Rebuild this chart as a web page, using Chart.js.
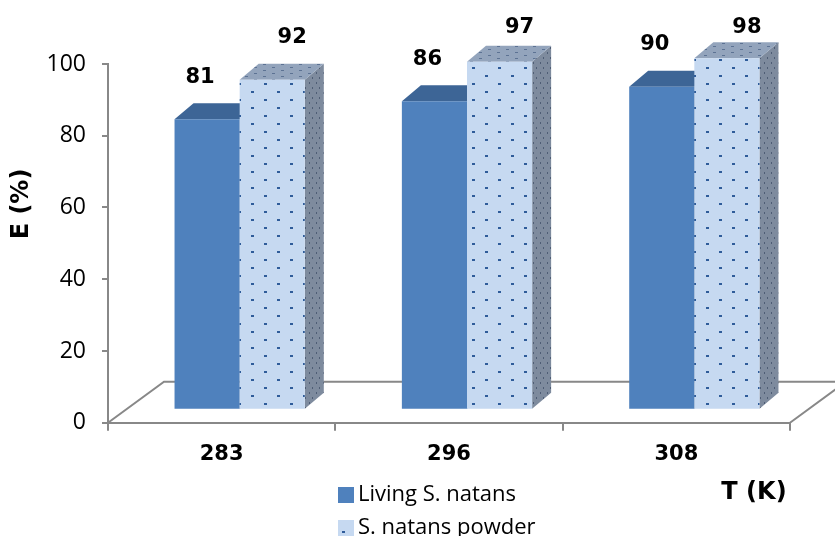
<!DOCTYPE html>
<html>
<head>
<meta charset="utf-8">
<script src="https://cdn.jsdelivr.net/npm/chart.js@4/dist/chart.umd.min.js"></script>
<style>
  html, body { margin: 0; padding: 0; background: #ffffff; }
  #wrap { width: 835px; height: 536px; position: relative; }
</style>
</head>
<body>
<div id="wrap"><canvas id="c" width="835" height="536"></canvas></div>
<script>
// Removal efficiency E (%) at three temperatures T (K)
const temperatures = ['283', '296', '308'];
const livingValues = [81, 86, 90];
const powderValues = [92, 97, 98];
const seriesNames = ['Living S. natans', 'S. natans powder'];
const yTickValues = [0, 20, 40, 60, 80, 100];

// 3D look: bars sit midway into the floor, each box has a shallow depth
const FLOOR_DX = 56, FLOOR_DY = -41;
const BAR_SHIFT_X = 18, BAR_SHIFT_Y = -13;
const BOX_DX = 19, BOX_DY = -16;
const AXIS_GRAY = '#888888';

function makePattern(w, h, bg, dot, dots) {
  const c = document.createElement('canvas');
  c.width = w; c.height = h;
  const g = c.getContext('2d');
  g.fillStyle = bg; g.fillRect(0, 0, w, h);
  g.fillStyle = dot;
  dots.forEach(d => g.fillRect(d[0], d[1], d[2], d[3]));
  return c;
}

const frontTile = makePattern(26, 16, '#C6D9F1', '#2F5C9A', [[4, 3, 3, 2], [17, 11, 3, 2]]);
const topTile = makePattern(18, 6, '#93A4BC', '#5C7293', [[2, 1, 3, 1], [11, 4, 3, 1]]);
const sideTile = makePattern(7, 10, '#7E8B9E', '#4E5D75', [[1, 2, 1, 2], [4, 7, 1, 2]]);

const ctx0 = document.getElementById('c').getContext('2d');
const styles = [
  { front: '#4F81BD', top: '#3D6596', side: '#34577F' },
  { front: ctx0.createPattern(frontTile, 'repeat'),
    top: ctx0.createPattern(topTile, 'repeat'),
    side: ctx0.createPattern(sideTile, 'repeat') }
];
const labelOffsetX = [-7, 20];

function poly(ctx, pts, fill) {
  ctx.beginPath();
  ctx.moveTo(pts[0][0], pts[0][1]);
  for (let i = 1; i < pts.length; i++) ctx.lineTo(pts[i][0], pts[i][1]);
  ctx.closePath();
  ctx.fillStyle = fill;
  ctx.fill();
}

function boxGeom(el) {
  const x0 = el.x - el.width / 2 + BAR_SHIFT_X;
  const x1 = x0 + el.width;
  const yT = el.y + BAR_SHIFT_Y;
  const yB = el.base + BAR_SHIFT_Y;
  return { x0, x1, yT, yB };
}

const bars3d = {
  id: 'bars3d',
  beforeDatasetsDraw(chart) {
    const ctx = chart.ctx;
    const a = chart.chartArea;
    ctx.save();
    // floor outline (front edge comes from the x axis border)
    ctx.strokeStyle = AXIS_GRAY;
    ctx.lineWidth = 2;
    ctx.beginPath();
    ctx.moveTo(a.left, a.bottom);
    ctx.lineTo(a.left + FLOOR_DX, a.bottom + FLOOR_DY);
    ctx.lineTo(a.right + FLOOR_DX, a.bottom + FLOOR_DY);
    ctx.lineTo(a.right, a.bottom);
    ctx.stroke();

    const metas = chart.data.datasets.map((d, i) => chart.getDatasetMeta(i));
    const n = chart.data.labels.length;
    for (let j = 0; j < n; j++) {
      metas.forEach((meta, i) => {
        const el = meta.data[j];
        const g = boxGeom(el);
        const st = styles[i];
        poly(ctx, [[g.x1, g.yT], [g.x1 + BOX_DX, g.yT + BOX_DY], [g.x1 + BOX_DX, g.yB + BOX_DY], [g.x1, g.yB]], st.side);
        poly(ctx, [[g.x0, g.yT], [g.x0 + BOX_DX, g.yT + BOX_DY], [g.x1 + BOX_DX, g.yT + BOX_DY], [g.x1, g.yT]], st.top);
        poly(ctx, [[g.x0, g.yT], [g.x1, g.yT], [g.x1, g.yB], [g.x0, g.yB]], st.front);
      });
    }
    ctx.restore();
    return false;
  },
  afterDraw(chart) {
    const ctx = chart.ctx;
    ctx.save();
    ctx.fillStyle = '#000';
    ctx.textAlign = 'center';
    ctx.textBaseline = 'middle';
    // value labels above each box
    ctx.font = 'bold 21px "DejaVu Sans"';
    chart.data.datasets.forEach((ds, i) => {
      chart.getDatasetMeta(i).data.forEach((el, j) => {
        const g = boxGeom(el);
        const cx = (g.x0 + g.x1) / 2 + labelOffsetX[i];
        const cy = Math.max(g.yT - 42, 28);
        ctx.fillText(String(ds.data[j]), cx, cy);
      });
    });
    // axis titles
    ctx.font = 'bold 24px "DejaVu Sans"';
    ctx.fillText('T (K)', 754, 493);
    ctx.save();
    ctx.translate(22, 204);
    ctx.rotate(-Math.PI / 2);
    ctx.fillText('E (%)', 0, 0);
    ctx.restore();
    // legend
    ctx.textAlign = 'left';
    ctx.font = '22px "Open Sans"';
    const items = [[487, styles[0].front], [520, styles[1].front]];
    items.forEach((it, i) => {
      ctx.fillStyle = it[1];
      ctx.fillRect(338, it[0], 16, 16);
      ctx.fillStyle = '#000';
      ctx.fillText(seriesNames[i], 358, it[0] + 8);
    });
    ctx.restore();
  }
};

new Chart(ctx0, {
  type: 'bar',
  data: {
    labels: temperatures,
    datasets: [
      { label: seriesNames[0], data: livingValues, backgroundColor: '#4F81BD' },
      { label: seriesNames[1], data: powderValues, backgroundColor: '#C6D9F1' }
    ]
  },
  options: {
    responsive: false,
    animation: false,
    devicePixelRatio: 1,
    layout: { padding: { top: 64, right: 45, left: 0, bottom: 0 } },
    datasets: { bar: { categoryPercentage: 0.573, barPercentage: 1 } },
    plugins: { legend: { display: false }, tooltip: { enabled: false } },
    scales: {
      x: {
        grid: { drawOnChartArea: false, drawTicks: true, tickLength: 8, color: AXIS_GRAY, lineWidth: 2 },
        border: { display: true, color: AXIS_GRAY, width: 2 },
        ticks: { color: '#000', font: { family: 'DejaVu Sans', weight: 'bold', size: 21 }, padding: 11 },
        afterFit(s) { s.height = 113.3; }
      },
      y: {
        min: 0, max: 100,
        afterBuildTicks(s) { s.ticks = yTickValues.map(v => ({ value: v })); },
        grid: { drawOnChartArea: false, drawTicks: true, tickLength: 6, color: AXIS_GRAY, lineWidth: 2 },
        border: { display: true, color: AXIS_GRAY, width: 2 },
        ticks: { color: '#000', font: { family: 'Open Sans', size: 23 }, padding: 16 },
        afterFit(s) { s.width = 108; }
      }
    }
  },
  plugins: [bars3d]
});
</script>
</body>
</html>
